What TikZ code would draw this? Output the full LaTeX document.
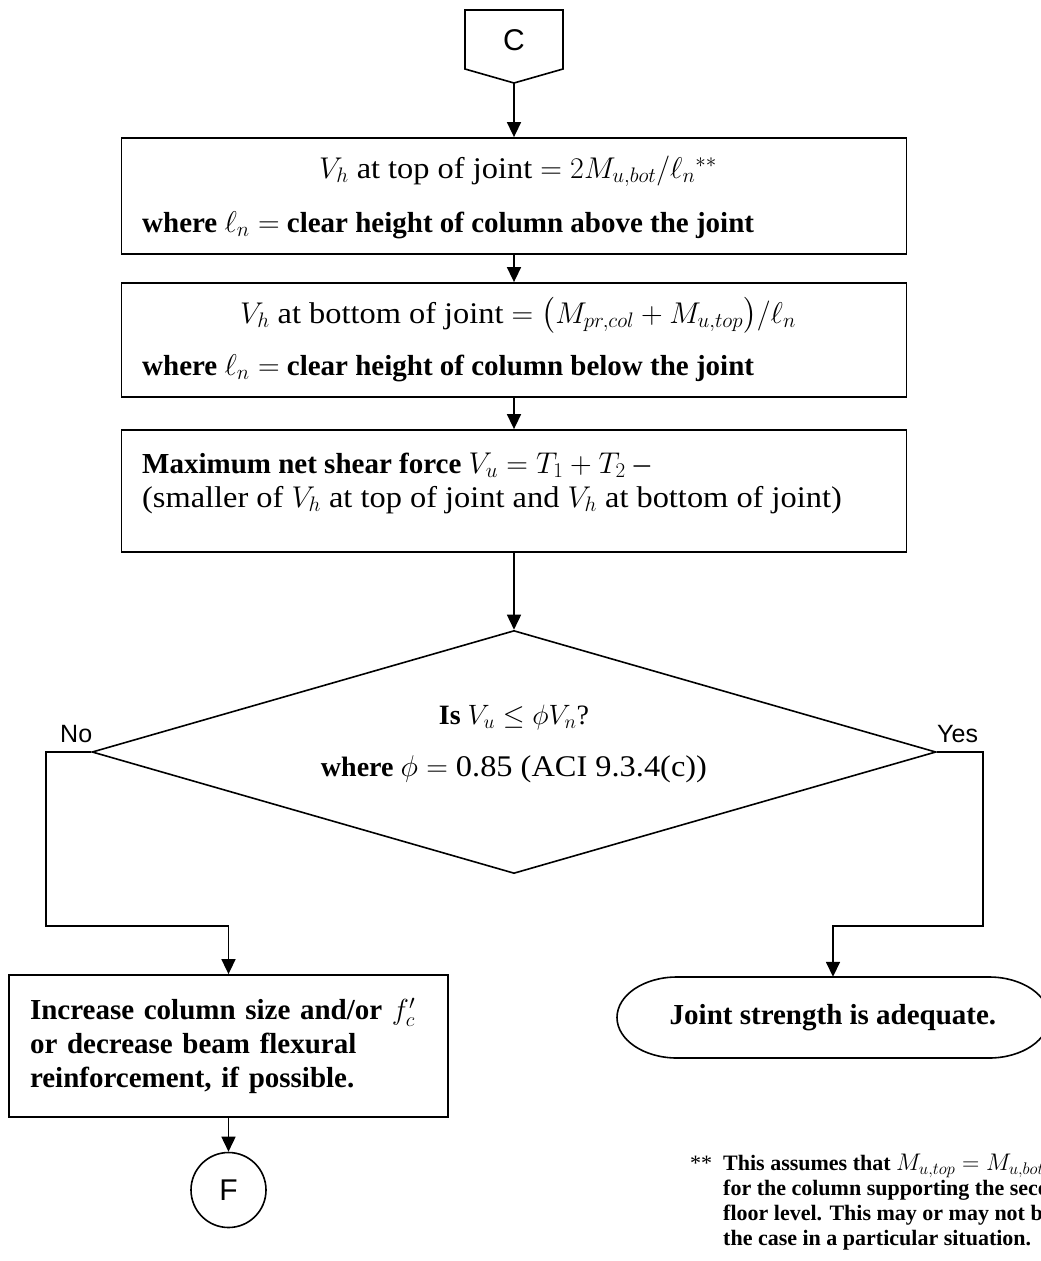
\RequirePackage{fix-cm}
\documentclass[tikz,border=0pt]{standalone}
\usepackage{amsmath,amssymb}
\usepackage{fontspec}
\setmainfont{Liberation Serif}
\setsansfont{Liberation Sans}
\newfontfamily\cambria[FakeStretch=1.08,Ligatures=TeX]{Liberation Serif}
\newcommand{\rg}{\cambria\mdseries\fontsize{30}{34}\selectfont}
\usetikzlibrary{arrows.meta,shapes.geometric}

\begin{document}
\begin{tikzpicture}[x=1pt,y=-1pt,
  flowbox/.style={draw,line width=1.8pt,minimum width=785pt,inner sep=0pt},
  arr/.style={-{Triangle[width=14pt,length=15pt]},line width=1.6pt},
  txt/.style={font=\bfseries\fontsize{29}{34}\selectfont,inner sep=0pt},
  sanslbl/.style={font=\sffamily\fontsize{25}{30}\selectfont,inner sep=0pt}]
\useasboundingbox (0,0) rectangle (1041,1261);
% off-page connector C
\node[font=\sffamily\fontsize{30}{36}\selectfont] (startC) at (514,40) {C};
\draw[line width=1.6pt] (465,10)--(563,10)--(563,69)--(514,83)--(465,69)--cycle;
\coordinate (ctip) at (514,83);
% the three process boxes
\node[flowbox,minimum height=116pt] (topbox) at (514,196) {};
\node[flowbox,minimum height=114pt] (botbox) at (514,340) {};
\node[flowbox,minimum height=122pt] (netbox) at (514,491) {};
\node[txt,anchor=base] (toptxt) at (518,178) {\rg $V_h$ at top of joint $=2M_{u,bot}/\ell_n{}^{**}$};
\node[txt,anchor=base west] (topwhere) at (142,232) {where {\rg$\ell_n=$} clear height of column above the joint};
\node[txt,anchor=base] (bottxt) at (518,323) {\rg $V_h$ at bottom of joint $=\bigl(M_{pr,col}+M_{u,top}\bigr)/\ell_n$};
\node[txt,anchor=base west] (botwhere) at (142,375) {where {\rg$\ell_n=$} clear height of column below the joint};
\node[txt,anchor=base west] (nettxt) at (142,473) {Maximum net shear force {\rg $V_u=T_1+T_2$ \textendash}};
\node[txt,anchor=base west] (netsmall) at (142,507) {\rg (smaller of $V_h$ at top of joint and $V_h$ at bottom of joint)};
% decision
\node[draw,diamond,line width=1.6pt,minimum width=844pt,minimum height=243pt,inner sep=0pt] (check) at (514,752) {};
\node[txt,align=center,font=\fontsize{28}{52}\selectfont] (checktxt) at (514,744)
  {\textbf{Is} $V_u\le\phi V_n$?\\ \textbf{where} {\rg $\phi=$ 0.85 (ACI 9.3.4(c))}};
\node[sanslbl,anchor=base west] (nolbl) at (60,742) {No};
\node[sanslbl,anchor=base west] (yeslbl) at (937,742) {Yes};
% outcomes
\node[draw,line width=1.8pt,minimum width=439pt,minimum height=142pt,text width=397pt,inner xsep=21pt,inner ysep=0pt,
  align=left,font=\bfseries\fontsize{29}{34}\selectfont] (increase) at (228.5,1046)
  {Increase column size and/or $f'_c$\\ or decrease beam flexural\\ reinforcement, if possible.};
\node[minimum width=432pt,minimum height=81pt,inner sep=0pt,font=\bfseries\fontsize{29}{34}\selectfont] (adequate) at (833,1017.5) {Joint strength is adequate.};
\draw[line width=1.6pt] (677,977)--(989,977) arc[start angle=-90,end angle=90,x radius=60,y radius=40.5]
  --(677,1058) arc[start angle=90,end angle=270,x radius=60,y radius=40.5]--cycle;
\node[draw,circle,line width=1.6pt,minimum size=75pt,inner sep=0pt,font=\sffamily\fontsize{30}{36}\selectfont] (endF) at (228.5,1190) {F};
% connectors
\coordinate (nobend) at (46,926);
\coordinate (yesbend) at (983,926);
\draw[arr] (ctip)--(ctip |- topbox.north);
\draw[arr] (topbox)--(botbox);
\draw[arr] (botbox)--(netbox);
\draw[arr] (netbox)--(check);
\draw[arr] (check.west)--(check.west -| nobend)--(nobend)-|(increase.north);
\draw[arr] (check.east)--(check.east -| yesbend)--(yesbend)-|(adequate.north);
\draw[arr] (increase)--(endF);
% footnote
\node[anchor=base west,inner sep=0pt,font=\fontsize{22}{25}\selectfont] (stars) at (690,1170) {**};
\node[anchor=north west,inner sep=0pt,align=left,font=\bfseries\fontsize{22}{25}\selectfont] (note) at (723,1154)
  {This assumes that {\fontsize{24}{25}\selectfont$M_{u,top}=M_{u,bot}$}\\ for the column supporting the second\\ floor level. This may or may not be\\ the case in a particular situation.};
\end{tikzpicture}
\end{document}
